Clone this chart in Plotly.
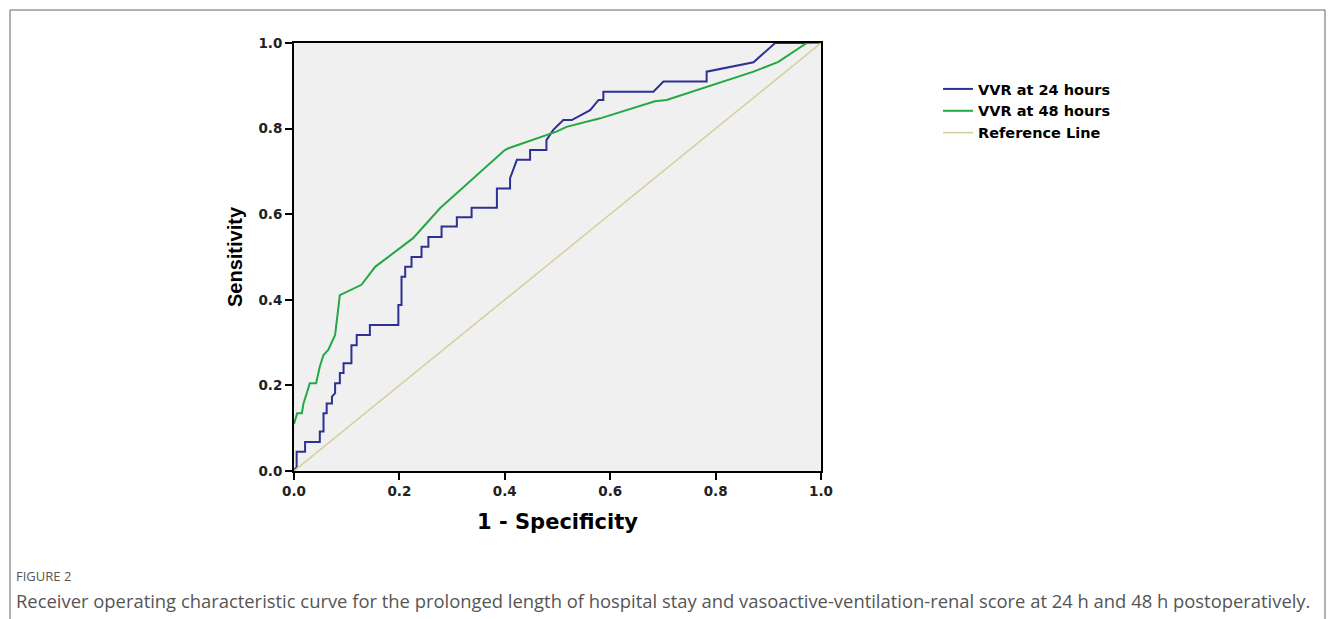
import plotly.graph_objects as go

# ROC curve vertices
fpr_24 = [0, 0.005, 0.005, 0.021, 0.021, 0.049, 0.049, 0.056, 0.056, 0.062, 0.062, 0.072, 0.072, 0.078, 0.078,
          0.087, 0.087, 0.094, 0.094, 0.109, 0.109, 0.119, 0.119, 0.144, 0.144, 0.198, 0.198, 0.204, 0.204,
          0.211, 0.211, 0.223, 0.223, 0.242, 0.242, 0.255, 0.255, 0.280, 0.280, 0.309, 0.309, 0.337, 0.337,
          0.385, 0.385, 0.410, 0.410, 0.423, 0.448, 0.448, 0.479, 0.479, 0.492, 0.511, 0.527, 0.562, 0.578,
          0.587, 0.587, 0.682, 0.701, 0.783, 0.783, 0.872, 0.913, 1.0]
tpr_24 = [0, 0.01, 0.045, 0.045, 0.068, 0.068, 0.092, 0.092, 0.135, 0.135, 0.158, 0.158, 0.174, 0.182, 0.205,
          0.205, 0.229, 0.229, 0.252, 0.252, 0.294, 0.294, 0.318, 0.318, 0.341, 0.341, 0.388, 0.388, 0.454,
          0.454, 0.477, 0.477, 0.500, 0.500, 0.524, 0.524, 0.547, 0.547, 0.571, 0.571, 0.593, 0.593, 0.615,
          0.615, 0.660, 0.660, 0.684, 0.727, 0.727, 0.750, 0.750, 0.773, 0.797, 0.820, 0.820, 0.843, 0.867,
          0.867, 0.886, 0.886, 0.910, 0.910, 0.933, 0.955, 1.0, 1.0]

fpr_48 = [0, 0.006, 0.015, 0.018, 0.024, 0.030, 0.042, 0.049, 0.056, 0.065, 0.078, 0.087, 0.128, 0.154,
          0.226, 0.277, 0.400, 0.407, 0.498, 0.517, 0.581, 0.685, 0.707, 0.783, 0.872, 0.919, 0.973, 1.0]
tpr_48 = [0.11, 0.135, 0.135, 0.158, 0.181, 0.205, 0.205, 0.244, 0.271, 0.283, 0.318, 0.411, 0.435, 0.477,
          0.544, 0.614, 0.750, 0.754, 0.793, 0.804, 0.824, 0.864, 0.867, 0.898, 0.933, 0.956, 1.0, 1.0]

ref_x = [0, 1]
ref_y = [0, 1]

series_names = ["VVR at 24 hours", "VVR at 48 hours", "Reference Line"]
tick_vals = [0.0, 0.2, 0.4, 0.6, 0.8, 1.0]
tick_text = ["0.0", "0.2", "0.4", "0.6", "0.8", "1.0"]

OFF = 8  # default page body margin
W, H = 1335 - OFF, 619 - OFF
# plot area in screen pixels
L, R, T, B = 294, 821, 43, 471


def px_x(p):
    return (p - L) / (R - L)


def px_y(p):
    return (B - p) / (B - T)


fig = go.Figure()
fig.add_trace(go.Scatter(x=fpr_24, y=tpr_24, mode="lines", name=series_names[0],
                         line=dict(color="#2e3192", width=2)))
fig.add_trace(go.Scatter(x=fpr_48, y=tpr_48, mode="lines", name=series_names[1],
                         line=dict(color="#23a845", width=2)))
fig.add_trace(go.Scatter(x=ref_x, y=ref_y, mode="lines", name=series_names[2],
                         line=dict(color="#d6cf9e", width=1.5)))

tickfont = dict(family="DejaVu Sans", size=13.5, color="#222", weight="bold")
axis_common = dict(
    range=[0, 1], showgrid=False, zeroline=False, showline=True, linecolor="black", linewidth=2,
    mirror=True, ticks="outside", ticklen=7, tickwidth=2, tickcolor="black",
    tickvals=tick_vals, ticktext=tick_text, tickfont=tickfont,
)

fig.update_layout(
    width=W, height=H,
    margin=dict(l=L - OFF, r=W - (R - OFF), t=T - OFF, b=H - (B - OFF)),
    paper_bgcolor="white", plot_bgcolor="#f0f0f0",
    xaxis=dict(axis_common, title=dict(text="1 - Specificity", standoff=16,
                                       font=dict(family="DejaVu Sans", size=21, color="black", weight="bold"))),
    yaxis=dict(axis_common, title=dict(text="Sensitivity", standoff=10,
                                       font=dict(family="Liberation Sans, Arial", size=20, color="black", weight="bold"))),
    legend=dict(x=px_x(938), y=px_y(73), xanchor="left", yanchor="top",
                font=dict(family="DejaVu Sans", size=14.5, color="black", weight="bold"),
                bgcolor="rgba(0,0,0,0)", tracegroupgap=0),
    showlegend=True,
    shapes=[dict(type="rect", xref="paper", yref="paper",
                 x0=px_x(10), x1=px_x(1325), y0=px_y(640), y1=px_y(10),
                 line=dict(color="#666", width=1), fillcolor="rgba(0,0,0,0)", layer="below")],
    annotations=[
        dict(text="FIGURE 2", xref="paper", yref="paper", x=px_x(14), y=px_y(576),
             xanchor="left", yanchor="middle", showarrow=False,
             font=dict(family="Open Sans", size=13, color="#555")),
        dict(text="Receiver operating characteristic curve for the prolonged length of hospital stay and "
                  "vasoactive-ventilation-renal score at 24 h and 48 h postoperatively.",
             xref="paper", yref="paper", x=px_x(14), y=px_y(600),
             xanchor="left", yanchor="middle", showarrow=False,
             font=dict(family="Open Sans", size=18.4, color="#555")),
    ],
)

fig.write_html("out.html")
